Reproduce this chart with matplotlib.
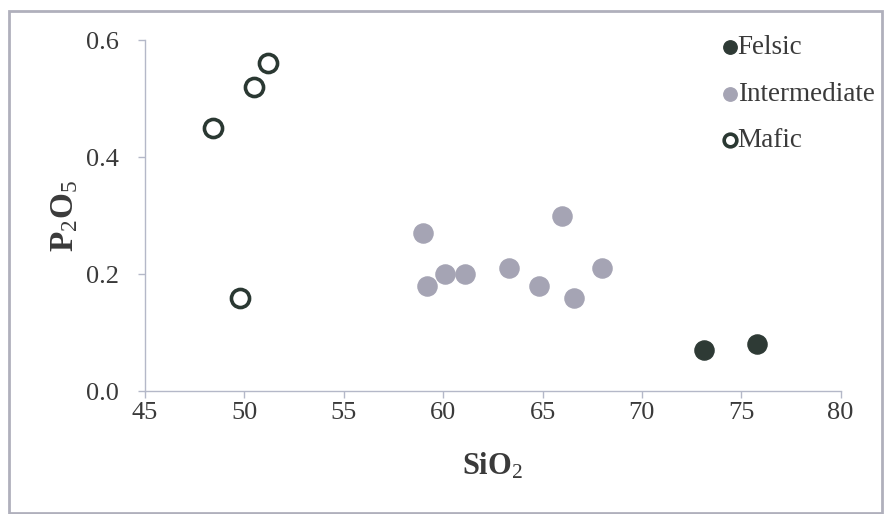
import matplotlib
matplotlib.use('Agg')
import matplotlib.pyplot as plt
from matplotlib.patches import Rectangle

plt.rcParams['font.family'] = 'Liberation Serif'
plt.rcParams['mathtext.fontset'] = 'custom'
plt.rcParams['mathtext.rm'] = 'Liberation Serif'
plt.rcParams['mathtext.it'] = 'Liberation Serif:italic'
plt.rcParams['mathtext.bf'] = 'Liberation Serif:bold'

# data
felsic_sio2 = [73.1, 75.8]
felsic_p2o5 = [0.07, 0.08]

inter_sio2 = [59.0, 59.2, 60.1, 61.1, 63.3, 64.8, 66.0, 66.6, 68.0]
inter_p2o5 = [0.27, 0.18, 0.20, 0.20, 0.21, 0.18, 0.30, 0.16, 0.21]

mafic_sio2 = [48.4, 50.5, 51.2, 49.8]
mafic_p2o5 = [0.45, 0.52, 0.56, 0.16]

xticks = [45, 50, 55, 60, 65, 70, 75, 80]
yticks = [0.0, 0.2, 0.4, 0.6]

spine_col = '#b4b8c8'
text_col = '#3a3a3a'

fig = plt.figure(figsize=(8.84, 5.14), dpi=100)
ax = fig.add_axes([0.164, 0.239, 0.787, 0.683])

ax.scatter(felsic_sio2, felsic_p2o5, s=190, color='#2e3a35', label='Felsic', zorder=3)
ax.scatter(inter_sio2, inter_p2o5, s=190, color='#a5a4b4', label='Intermediate', zorder=3)
ax.scatter(mafic_sio2, mafic_p2o5, s=170, facecolor='white', edgecolor='#2a3832',
           linewidth=2.6, label='Mafic', zorder=3)

ax.set_xlim(45, 80)
ax.set_ylim(0, 0.6)
ax.set_xticks(xticks)
ax.set_yticks(yticks)
ax.set_yticklabels(['%.1f' % v for v in yticks])

for s in ['top', 'right']:
    ax.spines[s].set_visible(False)
for s in ['left', 'bottom']:
    ax.spines[s].set_color(spine_col)
    ax.spines[s].set_linewidth(1.0)
ax.tick_params(axis='both', colors=spine_col, labelcolor=text_col, labelsize=19,
               length=5, width=1.0, direction='out')
ax.tick_params(axis='x', pad=3)
ax.tick_params(axis='y', pad=14)

ax.set_xlabel('SiO$_2$', fontsize=22, fontweight='bold', color=text_col, labelpad=19)
ax.set_ylabel('P$_2$O$_5$', fontsize=24, fontweight='bold', color=text_col, labelpad=4)

leg = ax.legend(loc='upper left', bbox_to_anchor=(0.819, 0.932), bbox_transform=fig.transFigure,
                frameon=False, fontsize=19.5, handlelength=0.45, handletextpad=0.05,
                labelspacing=0.8, markerscale=0.7, borderaxespad=0, borderpad=0)
for t in leg.get_texts():
    t.set_color(text_col)

# grey frame around the whole picture
fig.patches.append(Rectangle((9 / 884, 1 / 514), 873 / 884, 502 / 514, transform=fig.transFigure,
                             fill=False, edgecolor='#b0b0bc', linewidth=2.0))

fig.savefig('out.png', dpi=100)
